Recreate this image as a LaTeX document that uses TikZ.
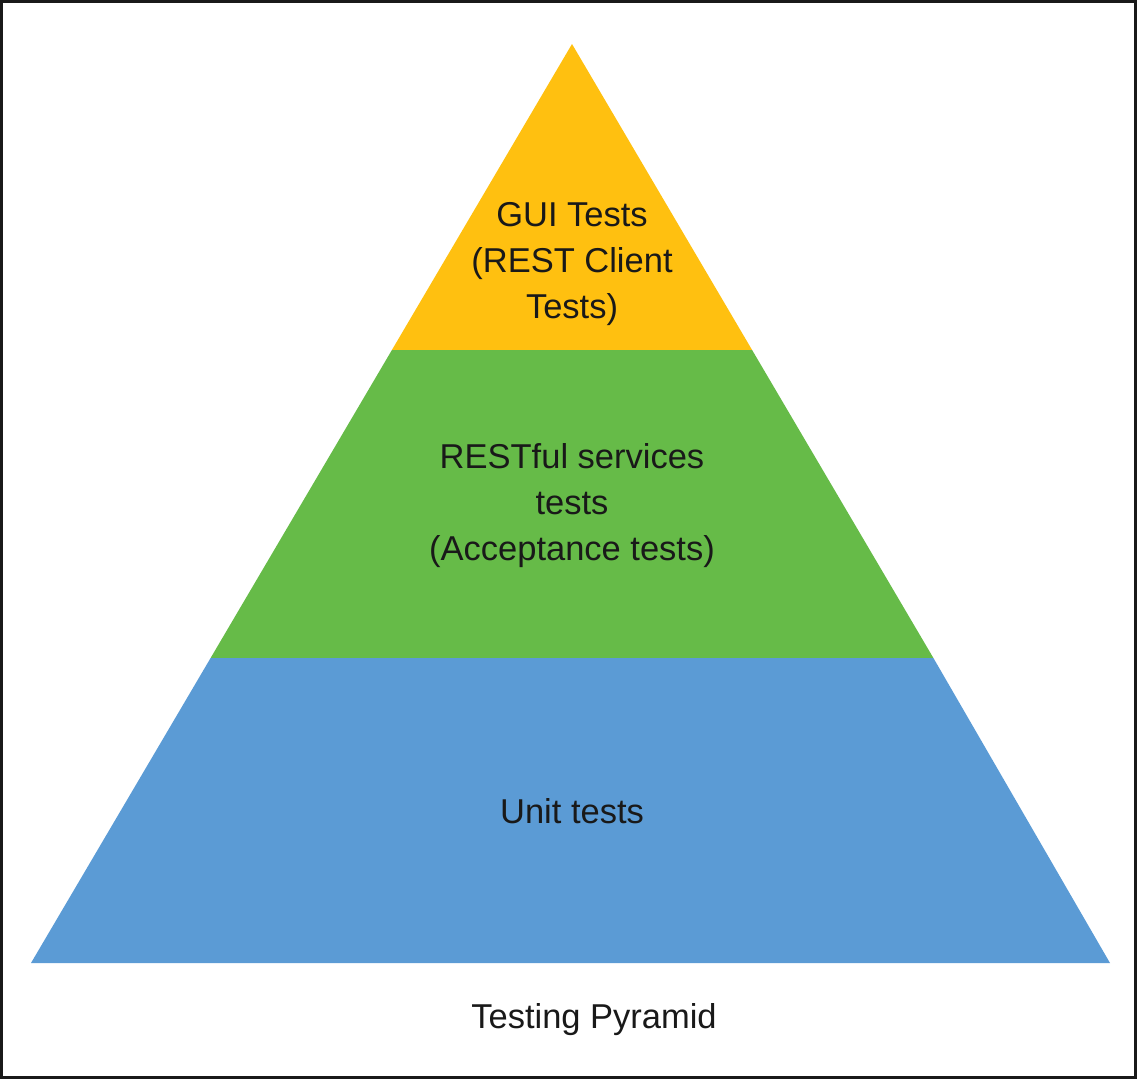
\documentclass[tikz,border=0pt]{standalone}
\usepackage{fontspec}
\setmainfont{Liberation Sans}
\definecolor{pyryellow}{HTML}{FFC010}
\definecolor{pyrgreen}{HTML}{66BB48}
\definecolor{pyrblue}{HTML}{5B9BD5}
\begin{document}
\begin{tikzpicture}[x=1pt,y=-1pt,
  label/.style={align=center,font=\fontsize{34.5}{46}\selectfont,text=black!90,inner sep=0pt}]
\useasboundingbox (0,0) rectangle (1137,1079);
\draw[line width=2.5pt,draw=black!90] (1.5,1.5) rectangle (1135.5,1077.5);
\coordinate (apex) at (572,44);
\coordinate (l1) at (391.9,350);
\coordinate (r1) at (752.1,350);
\coordinate (l2) at (210.6,658);
\coordinate (r2) at (933.4,658);
\coordinate (bl) at (31,963);
\coordinate (br) at (1110,963);
\fill[pyryellow] (apex) -- (r1) -- (l1) -- cycle;
\fill[pyrgreen] (l1) -- (r1) -- (r2) -- (l2) -- cycle;
\fill[pyrblue] (l2) -- (r2) -- (br) -- (bl) -- cycle;
\node[label] (gui) at (572,264) {GUI Tests\\(REST Client\\Tests)};
\node[label] (rest) at (572,506) {RESTful services\\tests\\(Acceptance tests)};
\node[label] (unit) at (572,811) {Unit tests};
\node[label] (title) at (594,1020) {Testing Pyramid};
\end{tikzpicture}
\end{document}
